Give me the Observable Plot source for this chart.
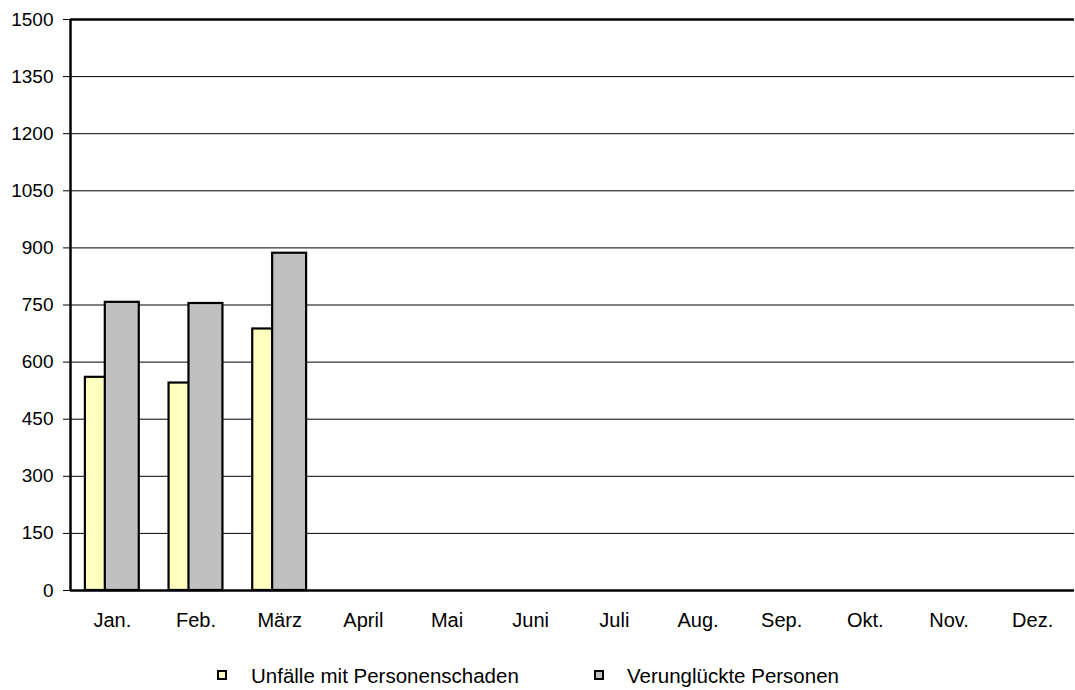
<!DOCTYPE html>
<html>
<head>
<meta charset="utf-8">
<script src="https://cdn.jsdelivr.net/npm/d3@7"></script>
<script src="https://cdn.jsdelivr.net/npm/@observablehq/plot@0.6"></script>
<style>
  body { margin: 0; background: #fff; font-family: "Liberation Sans", Arial, sans-serif; }
  #wrap { position: relative; width: 1075px; height: 690px; }
  #wrap svg text { font-family: "Liberation Sans", Arial, sans-serif; fill: #000; }
  .sw { position: absolute; top: 670px; width: 6px; height: 6px; border: 2px solid #000; }
  .lt { position: absolute; top: 666px; font-size: 20.5px; line-height: 20px; color: #000; white-space: nowrap; }
</style>
</head>
<body>
<div id="wrap"></div>
<script>
const months = ["Jan.", "Feb.", "März", "April", "Mai", "Juni", "Juli", "Aug.", "Sep.", "Okt.", "Nov.", "Dez."];
const unfaelle = [560, 545, 687];
const verunglueckte = [757, 754, 886];
const seriesNames = ["Unfälle mit Personenschaden", "Verunglückte Personen"];
const seriesColors = ["#FFFFC0", "#C0C0C0"];
const yTicks = [0, 150, 300, 450, 600, 750, 900, 1050, 1200, 1350, 1500];

const barW = 0.406, shift = 0.119;
const dataA = unfaelle.map((v, i) => ({i, v}));
const dataB = verunglueckte.map((v, i) => ({i, v}));
const monthData = months.map((m, i) => ({m, i}));

const chart = Plot.plot({
  width: 1075,
  height: 632,
  marginTop: 19,
  marginBottom: 42,
  marginLeft: 70,
  marginRight: 1,
  style: {fontFamily: "'Liberation Sans', Arial, sans-serif", fontSize: "19px", color: "#000", background: "#fff"},
  x: {domain: [0, 12], axis: null},
  y: {domain: [0, 1500], axis: null},
  marks: [
    Plot.ruleY(yTicks.filter(d => d > 0 && d < 1500), {stroke: "#000", strokeWidth: 1, strokeOpacity: 1}),
    Plot.rectY(dataA, {x1: d => d.i + 0.5 - shift - barW / 2, x2: d => d.i + 0.5 - shift + barW / 2, y1: 0, y2: "v", fill: seriesColors[0], stroke: "#000", strokeWidth: 2.2}),
    Plot.rectY(dataB, {x1: d => d.i + 0.5 + shift - barW / 2, x2: d => d.i + 0.5 + shift + barW / 2, y1: 0, y2: "v", fill: seriesColors[1], stroke: "#000", strokeWidth: 2.2}),
    Plot.ruleY([1500], {stroke: "#000", strokeWidth: 2.5}),
    Plot.ruleY([0], {stroke: "#000", strokeWidth: 2.5}),
    Plot.ruleX([0], {stroke: "#000", strokeWidth: 2.5}),
    Plot.axisY({ticks: yTicks, tickSize: 7, tickFormat: () => "", stroke: "#000", strokeOpacity: 1, label: null}),
    Plot.text(yTicks, {y: d => d, text: d => String(d), frameAnchor: "left", dx: -17, textAnchor: "end", fontSize: 19, fill: "#000"}),
    Plot.text(monthData, {x: d => d.i + 0.5, text: "m", frameAnchor: "bottom", lineAnchor: "middle", dy: 30, fontSize: 20, fill: "#000"})
  ]
});
const wrap = document.getElementById("wrap");
wrap.appendChild(chart);

const swLefts = [217, 594];
const txtLefts = [251, 627];
seriesNames.forEach((name, k) => {
  const sw = document.createElement("div");
  sw.className = "sw";
  sw.style.left = swLefts[k] + "px";
  sw.style.background = seriesColors[k];
  wrap.appendChild(sw);
  const t = document.createElement("div");
  t.className = "lt";
  t.style.left = txtLefts[k] + "px";
  t.textContent = name;
  wrap.appendChild(t);
});
</script>
</body>
</html>
